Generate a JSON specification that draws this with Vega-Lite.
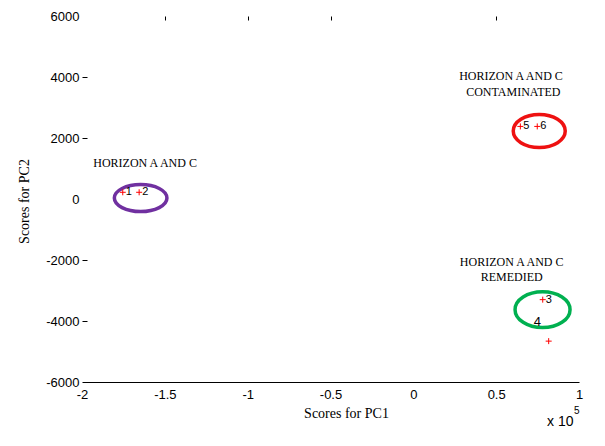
{
  "$schema": "https://vega.github.io/schema/vega-lite/v6.json",
  "width": 497,
  "height": 366,
  "autosize": {"type": "none"},
  "padding": {"left": 82, "top": 16, "right": 26, "bottom": 64},
  "background": "white",
  "config": {
    "view": {"stroke": null},
    "axis": {"labelFont": "Liberation Sans", "labelColor": "black", "titleFont": "Liberation Serif", "titleFontWeight": "normal", "titleColor": "black", "titleFontSize": 14, "labelFontSize": 13, "grid": false, "labelFlush": false}
  },
  "datasets": {
    "points": [
      {"id": "1", "pc1": -175400, "pc2": 220},
      {"id": "2", "pc1": -165500, "pc2": 220},
      {"id": "3", "pc1": 78100, "pc2": -3300},
      {"id": "4", "pc1": 81700, "pc2": -4660},
      {"id": "5", "pc1": 64600, "pc2": 2380},
      {"id": "6", "pc1": 74800, "pc2": 2380}
    ],
    "groups": [
      {"group": "A and C", "cx": -164600, "cy": 30},
      {"group": "Contaminated", "cx": 76000, "cy": 2230},
      {"group": "Remedied", "cx": 78000, "cy": -3630}
    ],
    "notes": [
      {"text": "HORIZON A AND C", "px": -161900, "py": 1190},
      {"text": "HORIZON A AND C", "px": 58960, "py": 4020},
      {"text": "CONTAMINATED", "px": 60350, "py": 3502},
      {"text": "HORIZON A AND C", "px": 59380, "py": -2056},
      {"text": "REMEDIED", "px": 59380, "py": -2548}
    ],
    "extraLabel": [
      {"text": "4", "px": 74830, "py": -4033}
    ],
    "sci": [
      {"text": "x 10", "px": 88720, "py": -7325, "part": "base"},
      {"text": "5", "px": 98600, "py": -6964, "part": "exp"}
    ]
  },
  "resolve": {"axis": {"x": "independent", "y": "independent"}},
  "layer": [
    {
      "mark": {"type": "rule", "color": "#1ee01e", "strokeWidth": 1},
      "encoding": {"y": {"datum": 0, "type": "quantitative", "axis": null}}
    },
    {
      "mark": {"type": "rule", "color": "#1ee01e", "strokeWidth": 1},
      "encoding": {
        "x": {"datum": 0, "type": "quantitative", "axis": null},
        "y": {"datum": 0, "type": "quantitative", "axis": null},
        "y2": {"datum": -6000}
      }
    },
    {
      "mark": {"type": "rule", "color": "black", "strokeWidth": 1},
      "encoding": {
        "x": {"datum": 100000, "type": "quantitative", "axis": null},
        "y": {"datum": 0, "type": "quantitative", "axis": null},
        "y2": {"datum": -6000}
      }
    },
    {
      "data": {"name": "groups"},
      "mark": {"type": "point", "filled": false, "strokeWidth": 3.5, "size": 4, "opacity": 1},
      "encoding": {
        "x": {"field": "cx", "type": "quantitative",
          "axis": {"orient": "top", "values": [-150000, -100000, -50000, 50000], "labels": false, "domain": false, "tickSize": -4, "tickColor": "black", "title": null}},
        "y": {"field": "cy", "type": "quantitative", "axis": null},
        "shape": {"field": "group", "type": "nominal", "legend": null,
          "scale": {"domain": ["A and C", "Contaminated", "Remedied"],
            "range": [
              "M-26.3,0C-26.3,-7.46,-14.5,-13.5,0,-13.5C14.5,-13.5,26.3,-7.46,26.3,0C26.3,7.46,14.5,13.5,0,13.5C-14.5,13.5,-26.3,7.46,-26.3,0Z",
              "M-26,0C-26,-9.11,-14.36,-16.5,0,-16.5C14.36,-16.5,26,-9.11,26,0C26,9.11,14.36,16.5,0,16.5C-14.36,16.5,-26,9.11,-26,0Z",
              "M-27.5,0C-27.5,-9.86,-15.19,-17.85,0,-17.85C15.19,-17.85,27.5,-9.86,27.5,0C27.5,9.86,15.19,17.85,0,17.85C-15.19,17.85,-27.5,9.86,-27.5,0Z"
            ]}},
        "color": {"field": "group", "type": "nominal", "legend": null,
          "scale": {"domain": ["A and C", "Contaminated", "Remedied"], "range": ["#7030a0", "#ee1111", "#00b050"]}}
      }
    },
    {
      "data": {"name": "points"},
      "mark": {"type": "point", "filled": false, "shape": "M-3,0L3,0M0,-3L0,3", "size": 4, "color": "#ff0000", "strokeWidth": 1, "opacity": 1},
      "encoding": {
        "x": {"field": "pc1", "type": "quantitative",
          "scale": {"domain": [-200000, 100000], "nice": false, "zero": false},
          "axis": {"orient": "bottom", "values": [-200000, -150000, -100000, -50000, 0, 50000, 100000], "labelExpr": "datum.value / 100000 + ''", "ticks": false, "domain": true, "domainColor": "black", "labelPadding": 6, "title": "Scores for PC1", "titleX": 264, "titleY": 31, "titleBaseline": "middle", "titleAlign": "center"}},
        "y": {"field": "pc2", "type": "quantitative",
          "scale": {"domain": [-6000, 6000], "nice": false, "zero": false},
          "axis": {"orient": "left", "values": [-6000, -4000, -2000, 0, 2000, 4000, 6000], "labelExpr": "datum.value + ''", "domain": false, "tickSize": -5, "tickColor": "black",
            "tickOpacity": {"condition": {"test": "abs(datum.value) == 6000 || datum.value == 0", "value": 0}, "value": 1},
            "labelPadding": 8, "title": "Scores for PC2", "titleX": -58, "titleY": 185, "titleBaseline": "middle", "titleAlign": "center", "titleAngle": 270}}
      }
    },
    {
      "data": {"name": "points"},
      "transform": [{"filter": "datum.id != '4'"}],
      "mark": {"type": "text", "align": "left", "baseline": "middle", "dx": 3, "font": "Liberation Sans", "fontSize": 11, "color": "black"},
      "encoding": {
        "x": {"field": "pc1", "type": "quantitative", "axis": null},
        "y": {"field": "pc2", "type": "quantitative", "axis": null},
        "text": {"field": "id"}
      }
    },
    {
      "data": {"name": "extraLabel"},
      "mark": {"type": "text", "align": "center", "baseline": "middle", "font": "Liberation Sans", "fontSize": 13, "color": "black"},
      "encoding": {
        "x": {"field": "px", "type": "quantitative", "axis": null},
        "y": {"field": "py", "type": "quantitative", "axis": null},
        "text": {"field": "text"}
      }
    },
    {
      "data": {"name": "notes"},
      "mark": {"type": "text", "align": "center", "baseline": "middle", "font": "Liberation Serif", "fontSize": 12, "color": "black"},
      "encoding": {
        "x": {"field": "px", "type": "quantitative", "axis": null},
        "y": {"field": "py", "type": "quantitative", "axis": null},
        "text": {"field": "text"}
      }
    },
    {
      "data": {"name": "sci"},
      "mark": {"type": "text", "align": "center", "baseline": "middle", "font": "Liberation Sans", "color": "black"},
      "encoding": {
        "x": {"field": "px", "type": "quantitative", "axis": null},
        "y": {"field": "py", "type": "quantitative", "axis": null},
        "text": {"field": "text"},
        "size": {"field": "part", "type": "nominal", "legend": null, "scale": {"type": "ordinal", "domain": ["base", "exp"], "range": [14, 10]}}
      }
    }
  ]
}
